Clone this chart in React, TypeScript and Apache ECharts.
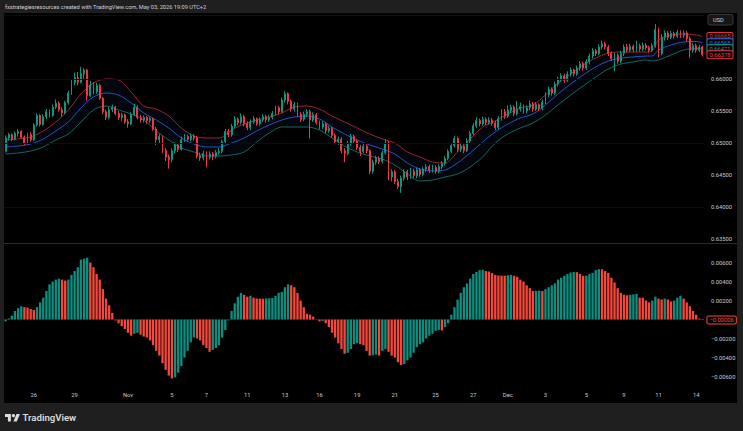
import React, { useEffect, useRef } from "react";
import * as echarts from "echarts";

// 4H candles, oldest first
const opens = [
  0.6487, 0.6508, 0.6513, 0.6506, 0.6515, 0.6518, 0.6509, 0.65, 0.6513, 0.6505,
  0.6528, 0.6543, 0.6529, 0.6541, 0.6549, 0.6543, 0.6556, 0.6562, 0.6552, 0.6547,
  0.6563, 0.6578, 0.6594, 0.6602, 0.6595, 0.6608, 0.6614, 0.6574, 0.6591, 0.658,
  0.659, 0.657, 0.6549, 0.654, 0.6552, 0.6556, 0.6546, 0.654, 0.6544, 0.6533,
  0.653, 0.6545, 0.6556, 0.654, 0.6536, 0.654, 0.6535, 0.6538, 0.6522, 0.6505,
  0.651, 0.6488, 0.6478, 0.6474, 0.6488, 0.6497, 0.649, 0.6505, 0.651, 0.6506,
  0.6511, 0.6508, 0.648, 0.6477, 0.6484, 0.6478, 0.6483, 0.6479, 0.6485, 0.6487,
  0.6502, 0.6518, 0.6513, 0.6526, 0.6537, 0.6532, 0.6541, 0.653, 0.6524, 0.6533,
  0.6538, 0.653, 0.6536, 0.6541, 0.6536, 0.654, 0.6546, 0.6555, 0.6549, 0.6567,
  0.6577, 0.6565, 0.6553, 0.656, 0.6545, 0.6537, 0.6545, 0.6549, 0.6536, 0.6544,
  0.6532, 0.6525, 0.653, 0.6519, 0.6523, 0.6512, 0.6502, 0.6506, 0.6488, 0.6484,
  0.6499, 0.651, 0.6503, 0.6493, 0.6487, 0.6495, 0.6488, 0.6456, 0.647, 0.6476,
  0.6471, 0.6485, 0.65, 0.6447, 0.6455, 0.644, 0.6432, 0.6445, 0.6455, 0.6447,
  0.6456, 0.6449, 0.6458, 0.6451, 0.6459, 0.6463, 0.6457, 0.6462, 0.6456, 0.6463,
  0.6468, 0.6476, 0.6487, 0.6496, 0.6507, 0.649, 0.6495, 0.6488, 0.6503, 0.6515,
  0.6527, 0.6535, 0.653, 0.6537, 0.6532, 0.6536, 0.6531, 0.6524, 0.6538, 0.6549,
  0.6542, 0.6551, 0.6556, 0.6546, 0.6553, 0.6557, 0.655, 0.6555, 0.6561, 0.6553,
  0.656, 0.6554, 0.6564, 0.6575, 0.6584, 0.6578, 0.6592, 0.66, 0.6605, 0.6598,
  0.6608, 0.6614, 0.6608, 0.6617, 0.6624, 0.6617, 0.6627, 0.6636, 0.6644, 0.664,
  0.665, 0.6655, 0.665, 0.664, 0.6632, 0.6637, 0.6628, 0.664, 0.665, 0.6645,
  0.6651, 0.6646, 0.6652, 0.6647, 0.6653, 0.6649, 0.6645, 0.6652, 0.6677, 0.664,
  0.6665, 0.6672, 0.6665, 0.6671, 0.6667, 0.6673, 0.6668, 0.6672, 0.6663, 0.6645,
  0.6652, 0.6645, 0.665,
];

const highs = [
  0.6512, 0.6516, 0.6515, 0.6518, 0.6522, 0.652, 0.6512, 0.6516, 0.6517, 0.6531,
  0.6546, 0.6545, 0.6545, 0.6553, 0.6552, 0.656, 0.6568, 0.6565, 0.6556, 0.6566,
  0.6582, 0.66, 0.661, 0.6611, 0.6619, 0.6617, 0.6616, 0.6597, 0.6595, 0.6594,
  0.6592, 0.6572, 0.6552, 0.6556, 0.656, 0.6558, 0.655, 0.6547, 0.6546, 0.6537,
  0.6548, 0.6561, 0.6559, 0.6544, 0.6543, 0.6542, 0.6541, 0.654, 0.6525, 0.6514,
  0.6512, 0.6492, 0.6482, 0.6492, 0.6501, 0.65, 0.651, 0.6514, 0.6513, 0.6515,
  0.6514, 0.6511, 0.6485, 0.6488, 0.6487, 0.6487, 0.6486, 0.6489, 0.6492, 0.6505,
  0.6522, 0.6522, 0.653, 0.6542, 0.654, 0.6546, 0.6544, 0.6534, 0.6537, 0.6542,
  0.654, 0.654, 0.6545, 0.6544, 0.6544, 0.655, 0.6558, 0.6558, 0.6571, 0.6581,
  0.6579, 0.6568, 0.6564, 0.6563, 0.6548, 0.6549, 0.6553, 0.6552, 0.6548, 0.6547,
  0.6535, 0.6534, 0.6532, 0.6527, 0.6525, 0.6515, 0.651, 0.6509, 0.6492, 0.6503,
  0.6514, 0.6513, 0.6506, 0.6497, 0.65, 0.6498, 0.649, 0.6474, 0.648, 0.6479,
  0.6488, 0.6506, 0.6503, 0.6459, 0.6458, 0.6444, 0.6449, 0.6459, 0.6458, 0.6461,
  0.646, 0.6462, 0.6461, 0.6463, 0.6467, 0.6466, 0.6466, 0.6465, 0.6467, 0.6472,
  0.648, 0.649, 0.65, 0.6511, 0.651, 0.6499, 0.6498, 0.6507, 0.6519, 0.6531,
  0.654, 0.6538, 0.6541, 0.654, 0.654, 0.6539, 0.6535, 0.6542, 0.6553, 0.6553,
  0.6559, 0.656, 0.6559, 0.6566, 0.6563, 0.656, 0.6559, 0.6566, 0.6564, 0.6564,
  0.6562, 0.6568, 0.6579, 0.6588, 0.6587, 0.6596, 0.6604, 0.6609, 0.6608, 0.6612,
  0.6618, 0.6616, 0.6621, 0.6628, 0.6627, 0.6631, 0.664, 0.6648, 0.6647, 0.6654,
  0.666, 0.6658, 0.6653, 0.6643, 0.6641, 0.664, 0.6644, 0.6654, 0.6655, 0.6655,
  0.6654, 0.666, 0.6655, 0.6657, 0.6656, 0.6652, 0.6656, 0.6686, 0.668, 0.667,
  0.6676, 0.6675, 0.6675, 0.6674, 0.6677, 0.6676, 0.6676, 0.6675, 0.6666, 0.6656,
  0.6655, 0.6653, 0.6652,
];

const lows = [
  0.6485, 0.6504, 0.6503, 0.6504, 0.651, 0.6507, 0.6497, 0.6498, 0.6502, 0.6503,
  0.6526, 0.6526, 0.6527, 0.6537, 0.654, 0.6541, 0.6553, 0.6549, 0.6541, 0.6545,
  0.656, 0.6575, 0.659, 0.659, 0.6593, 0.66, 0.6566, 0.6572, 0.6576, 0.6577,
  0.6567, 0.6545, 0.6536, 0.6537, 0.6548, 0.6543, 0.6536, 0.6534, 0.653, 0.6524,
  0.6528, 0.6542, 0.6537, 0.6532, 0.6532, 0.653, 0.6531, 0.6519, 0.6497, 0.65,
  0.6484, 0.6472, 0.646, 0.647, 0.6484, 0.6486, 0.6488, 0.6502, 0.6502, 0.6503,
  0.6504, 0.6476, 0.6472, 0.6473, 0.6462, 0.6474, 0.6473, 0.6476, 0.6482, 0.6484,
  0.65, 0.6509, 0.651, 0.6523, 0.6528, 0.6529, 0.6526, 0.652, 0.652, 0.653,
  0.6527, 0.6527, 0.6533, 0.6532, 0.6533, 0.6537, 0.6543, 0.6545, 0.6547, 0.6563,
  0.656, 0.6549, 0.6549, 0.6541, 0.6533, 0.6534, 0.6541, 0.6507, 0.6533, 0.6529,
  0.6521, 0.6522, 0.6515, 0.6516, 0.6508, 0.6498, 0.6497, 0.6484, 0.647, 0.6481,
  0.6496, 0.6499, 0.6489, 0.648, 0.6484, 0.6484, 0.6452, 0.6452, 0.6466, 0.6467,
  0.6468, 0.6482, 0.6442, 0.644, 0.6436, 0.6428, 0.6422, 0.6441, 0.6442, 0.6444,
  0.6445, 0.6445, 0.6447, 0.6448, 0.6455, 0.6453, 0.6454, 0.6452, 0.6453, 0.6459,
  0.6465, 0.6473, 0.6484, 0.6493, 0.6486, 0.6486, 0.6484, 0.6486, 0.65, 0.6512,
  0.6523, 0.6526, 0.6527, 0.6528, 0.6529, 0.6527, 0.652, 0.6521, 0.6535, 0.6538,
  0.6539, 0.6547, 0.6542, 0.6543, 0.6549, 0.6546, 0.6546, 0.6551, 0.6549, 0.655,
  0.655, 0.6551, 0.6561, 0.6571, 0.6574, 0.6575, 0.6588, 0.6596, 0.6594, 0.6595,
  0.6604, 0.6604, 0.6605, 0.6613, 0.6613, 0.6614, 0.6623, 0.6632, 0.6636, 0.6637,
  0.6646, 0.6646, 0.6636, 0.6628, 0.6612, 0.6624, 0.6625, 0.6636, 0.6641, 0.6642,
  0.6642, 0.6643, 0.6643, 0.6644, 0.6645, 0.6641, 0.6642, 0.6649, 0.6634, 0.6637,
  0.666, 0.6661, 0.6662, 0.6663, 0.6664, 0.6664, 0.6664, 0.6659, 0.6633, 0.6641,
  0.6641, 0.6642, 0.6635,
];

const closes = [
  0.6508, 0.6513, 0.6506, 0.6515, 0.6518, 0.6509, 0.65, 0.6513, 0.6505, 0.6528,
  0.6543, 0.6529, 0.6541, 0.6549, 0.6543, 0.6556, 0.6562, 0.6552, 0.6547, 0.6563,
  0.6578, 0.6594, 0.6602, 0.6595, 0.6608, 0.6614, 0.6574, 0.6591, 0.658, 0.659,
  0.657, 0.6549, 0.654, 0.6552, 0.6556, 0.6546, 0.654, 0.6544, 0.6533, 0.653,
  0.6545, 0.6556, 0.654, 0.6536, 0.654, 0.6535, 0.6538, 0.6522, 0.6505, 0.651,
  0.6488, 0.6478, 0.6474, 0.6488, 0.6497, 0.649, 0.6505, 0.651, 0.6506, 0.6511,
  0.6508, 0.648, 0.6477, 0.6484, 0.6478, 0.6483, 0.6479, 0.6485, 0.6487, 0.6502,
  0.6518, 0.6513, 0.6526, 0.6537, 0.6532, 0.6541, 0.653, 0.6524, 0.6533, 0.6538,
  0.653, 0.6536, 0.6541, 0.6536, 0.654, 0.6546, 0.6555, 0.6549, 0.6567, 0.6577,
  0.6565, 0.6553, 0.656, 0.6545, 0.6537, 0.6545, 0.6549, 0.6536, 0.6544, 0.6532,
  0.6525, 0.653, 0.6519, 0.6523, 0.6512, 0.6502, 0.6506, 0.6488, 0.6484, 0.6499,
  0.651, 0.6503, 0.6493, 0.6487, 0.6495, 0.6488, 0.6456, 0.647, 0.6476, 0.6471,
  0.6485, 0.65, 0.6447, 0.6455, 0.644, 0.6432, 0.6445, 0.6455, 0.6447, 0.6456,
  0.6449, 0.6458, 0.6451, 0.6459, 0.6463, 0.6457, 0.6462, 0.6456, 0.6463, 0.6468,
  0.6476, 0.6487, 0.6496, 0.6507, 0.649, 0.6495, 0.6488, 0.6503, 0.6515, 0.6527,
  0.6535, 0.653, 0.6537, 0.6532, 0.6536, 0.6531, 0.6524, 0.6538, 0.6549, 0.6542,
  0.6551, 0.6556, 0.6546, 0.6553, 0.6557, 0.655, 0.6555, 0.6561, 0.6553, 0.656,
  0.6554, 0.6564, 0.6575, 0.6584, 0.6578, 0.6592, 0.66, 0.6605, 0.6598, 0.6608,
  0.6614, 0.6608, 0.6617, 0.6624, 0.6617, 0.6627, 0.6636, 0.6644, 0.664, 0.665,
  0.6655, 0.665, 0.664, 0.6632, 0.6637, 0.6628, 0.664, 0.665, 0.6645, 0.6651,
  0.6646, 0.6652, 0.6647, 0.6653, 0.6649, 0.6645, 0.6652, 0.6677, 0.664, 0.6665,
  0.6672, 0.6665, 0.6671, 0.6667, 0.6673, 0.6668, 0.6672, 0.6663, 0.6645, 0.6652,
  0.6645, 0.665, 0.66378,
];

// Channel (upper / basis / lower), sampled at these bar indices
const bandIdx = [
  0, 4, 8, 12, 16, 20, 24, 28, 32, 36, 40, 44, 48, 52, 56, 60, 64, 68, 72, 76,
  80, 84, 88, 92, 96, 100, 104, 108, 112, 116, 120, 124, 128, 132, 136, 140,
  144, 148, 152, 156, 160, 164, 168, 172, 176, 180, 184, 188, 192, 196, 200,
  204, 206, 208, 212, 216, 220, 222,
];
const upperBand = [
  0.65047, 0.65063, 0.65094, 0.65188, 0.65328, 0.65516, 0.65766, 0.65938, 0.66, 0.65984,
  0.65797, 0.65578, 0.65531, 0.65422, 0.65234, 0.65109, 0.65078, 0.65078, 0.65203, 0.65297,
  0.65359, 0.65406, 0.65469, 0.65563, 0.65578, 0.65531, 0.65422, 0.65328, 0.65234, 0.65141,
  0.65063, 0.65, 0.64859, 0.64781, 0.64703, 0.64688, 0.64859, 0.65063, 0.6525, 0.65344,
  0.65453, 0.65547, 0.65594, 0.6575, 0.65938, 0.66078, 0.66219, 0.66328, 0.66406, 0.66422,
  0.66422, 0.66422, 0.66438, 0.66609, 0.66688, 0.66703, 0.66688, 0.66665,
];
const middleBand = [
  0.64938, 0.64953, 0.64984, 0.65063, 0.65188, 0.65328, 0.65547, 0.65719, 0.65781, 0.6575,
  0.65625, 0.65469, 0.65359, 0.65234, 0.65078, 0.64984, 0.64938, 0.64938, 0.65, 0.65078,
  0.65188, 0.65281, 0.65359, 0.65406, 0.65422, 0.65375, 0.6525, 0.65141, 0.65047, 0.64969,
  0.64906, 0.64828, 0.64688, 0.64594, 0.64563, 0.64578, 0.64688, 0.64844, 0.65016, 0.65172,
  0.65297, 0.65391, 0.65453, 0.65594, 0.65766, 0.65922, 0.66063, 0.66188, 0.66281, 0.66328,
  0.66344, 0.66359, 0.66359, 0.66453, 0.66531, 0.66578, 0.66586, 0.66568,
];
const lowerBand = [
  0.64828, 0.64844, 0.64875, 0.64938, 0.65047, 0.65141, 0.65328, 0.65516, 0.65578, 0.65516,
  0.65453, 0.65359, 0.65188, 0.65047, 0.64922, 0.64859, 0.64797, 0.64797, 0.64813, 0.64859,
  0.65016, 0.65156, 0.6525, 0.6525, 0.6525, 0.65203, 0.65078, 0.64953, 0.64859, 0.64797,
  0.6475, 0.64656, 0.64516, 0.64406, 0.64422, 0.64469, 0.64516, 0.64625, 0.64781, 0.65,
  0.65141, 0.65234, 0.65313, 0.65438, 0.65594, 0.6575, 0.65891, 0.66031, 0.66156, 0.66234,
  0.66266, 0.66297, 0.66281, 0.66297, 0.66375, 0.66453, 0.66477, 0.66471,
];

// Momentum histogram, one value per candle
const momentum = [
  -0.0002, 0.0001, 0.0004, 0.0009, 0.0012, 0.0014, 0.0013, 0.00125, 0.0011, 0.001,
  0.0013, 0.0018, 0.0023, 0.003, 0.0037, 0.004, 0.0042, 0.0043, 0.0042, 0.0041,
  0.0042, 0.0047, 0.0051, 0.0055, 0.0063, 0.0064, 0.0065, 0.006, 0.0055, 0.0048,
  0.0042, 0.0032, 0.0022, 0.0015, 0.0007, -0.0001, -0.0004, -0.0007, -0.001, -0.0014,
  -0.0017, -0.0015, -0.0014, -0.0016, -0.0018, -0.0019, -0.0022, -0.0027, -0.0033, -0.0038,
  -0.0046, -0.0053, -0.0059, -0.0062, -0.0061, -0.0056, -0.0049, -0.004, -0.0033, -0.0024,
  -0.0019, -0.002, -0.0022, -0.0027, -0.003, -0.0034, -0.0032, -0.003, -0.0027, -0.0019,
  -0.0011, -0.0001, 0.0009, 0.0017, 0.0024, 0.0028, 0.0026, 0.0024, 0.0025, 0.0023,
  0.0022, 0.00219, 0.00218, 0.00222, 0.00224, 0.00226, 0.0025, 0.0028, 0.0029, 0.0034,
  0.0037, 0.0036, 0.0034, 0.0028, 0.002, 0.0013, 0.0006, 0.0005, 0.0003, 0.00003,
  -0.0002, -0.00015, -0.0004, -0.0008, -0.0014, -0.0019, -0.0025, -0.0031, -0.0036, -0.0035,
  -0.0031, -0.0026, -0.0025, -0.0026, -0.0027, -0.0033, -0.0038, -0.00378, -0.0037, -0.0038,
  -0.0033, -0.0031, -0.0034, -0.0038, -0.004, -0.0045, -0.0048, -0.0047, -0.0043, -0.004,
  -0.0035, -0.0029, -0.0026, -0.0024, -0.002, -0.0017, -0.0015, -0.0012, -0.0011, -0.00115,
  -0.0008, -0.0004, 0.0005, 0.0013, 0.0021, 0.0028, 0.0034, 0.0038, 0.0043, 0.0048,
  0.005, 0.0052, 0.00523, 0.0051, 0.00505, 0.0049, 0.0047, 0.00463, 0.00462, 0.00461,
  0.00467, 0.0047, 0.0046, 0.0045, 0.0042, 0.004, 0.0036, 0.0033, 0.003, 0.00302,
  0.00304, 0.003, 0.0032, 0.0034, 0.0036, 0.0038, 0.0042, 0.0044, 0.0046, 0.0048,
  0.00495, 0.005, 0.00498, 0.0048, 0.0046, 0.00462, 0.0048, 0.0049, 0.0052, 0.0053,
  0.00529, 0.0051, 0.0049, 0.0044, 0.0039, 0.0033, 0.0028, 0.0026, 0.00255, 0.0026,
  0.00265, 0.0027, 0.0023, 0.00229, 0.002, 0.0018, 0.002, 0.0024, 0.0022, 0.0021,
  0.0022, 0.0021, 0.0019, 0.002, 0.0023, 0.0025, 0.0022, 0.0018, 0.0014, 0.0009,
  0.0005, 0.0001, -0.00006,
];

// Time axis labels: bar index and text
const timeLabelIdx = [9, 22, 39, 53, 64, 77, 89, 100, 112, 124, 137, 149, 160, 172, 185, 197, 208, 220];
const timeLabelText = ["26", "29", "Nov", "5", "7", "11", "13", "16", "19", "21", "25", "27", "Dec", "3", "5", "9", "11", "14"];

const priceTicks = [0.635, 0.64, 0.645, 0.65, 0.655, 0.66, 0.665, 0.67];
const priceLabelTicks = [0.635, 0.64, 0.645, 0.65, 0.655, 0.66];
const momentumTicks = [-0.006, -0.004, -0.002, 0.002, 0.004, 0.006];

const HEADER = "fxstrategiesresources created with TradingView.com, May 03, 2026 19:09 UTC+2";

const UP = "#089981";
const DOWN = "#f23645";
const HIST_UP = "#0b8f80";
const HIST_DOWN = "#f5473a";
const UPPER_C = "#9e2530";
const MID_C = "#2853c4";
const LOWER_C = "#126b5b";
const FRAME = "#1f1f1f";
const AXIS_TEXT = "#c9cbd1";
const GRID_C = "#0e0e0e";
const FONT = "Roboto, 'Noto Sans', sans-serif";

const TV_PATH = "M14 22H7V11H0V4h14v18zM28 22h-8l7.5-18h8L28 22z";
echarts.graphic.registerShape("tvMark", echarts.graphic.extendPath(TV_PATH, {}));

const fmtSigned = (v: number) => (v < 0 ? "\u2212" : "") + Math.abs(v).toFixed(5);

function boxLabel(color: string) {
  return {
    show: true,
    distance: 5,
    formatter: (p: any) => {
      const v = Array.isArray(p.value) ? p.value[1] : p.value;
      return fmtSigned(Number(v));
    },
    color,
    backgroundColor: "#050505",
    borderColor: color,
    borderWidth: 1,
    borderRadius: 1,
    padding: [1, 2, 0, 2],
    fontSize: 5.8,
    fontFamily: FONT,
    lineHeight: 6,
    valueAnimation: false,
  };
}

export default function App() {
  const ref = useRef<HTMLDivElement>(null);

  useEffect(() => {
    if (!ref.current) return;
    const chart = echarts.init(ref.current, undefined, { renderer: "svg" });

    const cats = closes.map((_, i) => String(i));
    const labelByIdx = new Map<number, string>();
    timeLabelIdx.forEach((k, j) => labelByIdx.set(k, timeLabelText[j]));

    const pairs = (vals: number[]) => bandIdx.map((k, j) => [k, vals[j]]);
    const widthPairs = bandIdx.map((k, j) => [k, upperBand[j] - lowerBand[j]]);

    const candles = opens.map((o, i) => [o, closes[i], lows[i], highs[i]]);
    const bars = momentum.map((v, i) => ({
      value: v,
      itemStyle: { color: i === 0 || v > momentum[i - 1] ? HIST_UP : HIST_DOWN },
    }));

    const lastUp = closes[closes.length - 1] >= opens[opens.length - 1];

    const option: any = {
      animation: false,
      backgroundColor: "#000000",
      grid: [
        { left: 4, right: 39, top: 13, height: 230 },
        { left: 4, right: 39, top: 244, height: 142 },
      ],
      xAxis: [
        { type: "category", gridIndex: 0, data: cats, boundaryGap: true, show: false },
        {
          type: "category",
          gridIndex: 1,
          data: cats,
          boundaryGap: true,
          axisLine: { show: false },
          axisTick: { show: false },
          splitLine: { show: false },
          axisLabel: {
            interval: (i: number) => labelByIdx.has(i),
            formatter: (_v: string, i: number) => labelByIdx.get(i) ?? "",
            color: AXIS_TEXT,
            fontSize: 5.8,
            fontFamily: FONT,
            margin: 6,
          },
        },
      ],
      yAxis: [
        {
          type: "value",
          gridIndex: 0,
          position: "right",
          min: 0.634375,
          max: 0.6703125,
          axisLine: { show: false },
          axisTick: { show: false },
          splitLine: { show: false },
          axisLabel: {
            customValues: priceLabelTicks,
            formatter: (v: number) => v.toFixed(5),
            color: AXIS_TEXT,
            fontSize: 5.8,
            fontFamily: FONT,
            margin: 7,
          },
        },
        {
          type: "value",
          gridIndex: 1,
          position: "right",
          min: -0.007,
          max: 0.0079474,
          axisLine: { show: false },
          axisTick: { show: false },
          splitLine: { show: false },
          axisLabel: {
            customValues: momentumTicks,
            formatter: (v: number) => fmtSigned(v),
            color: AXIS_TEXT,
            fontSize: 5.8,
            fontFamily: FONT,
            margin: 7,
          },
        },
      ],
      series: [
        {
          name: "bandBase",
          type: "line",
          xAxisIndex: 0,
          yAxisIndex: 0,
          data: pairs(lowerBand),
          stack: "channel",
          symbol: "none",
          silent: true,
          lineStyle: { opacity: 0 },
          z: 1,
          markLine: {
            silent: true,
            symbol: "none",
            label: { show: false },
            lineStyle: { color: GRID_C, width: 1, type: "solid" },
            data: priceTicks.map((v) => ({ yAxis: v })),
          },
        },
        {
          name: "bandFill",
          type: "line",
          xAxisIndex: 0,
          yAxisIndex: 0,
          data: widthPairs,
          stack: "channel",
          symbol: "none",
          silent: true,
          lineStyle: { opacity: 0 },
          areaStyle: { color: "rgba(40, 80, 170, 0.1)" },
          z: 1,
        },
        {
          name: "upper",
          type: "line",
          xAxisIndex: 0,
          yAxisIndex: 0,
          data: pairs(upperBand),
          symbol: "none",
          smooth: 0.3,
          silent: true,
          lineStyle: { color: UPPER_C, width: 1 },
          endLabel: boxLabel("#d8343f"),
          z: 2,
        },
        {
          name: "basis",
          type: "line",
          xAxisIndex: 0,
          yAxisIndex: 0,
          data: pairs(middleBand),
          symbol: "none",
          smooth: 0.3,
          silent: true,
          lineStyle: { color: MID_C, width: 1 },
          endLabel: boxLabel("#3d6bea"),
          z: 2,
        },
        {
          name: "lower",
          type: "line",
          xAxisIndex: 0,
          yAxisIndex: 0,
          data: pairs(lowerBand),
          symbol: "none",
          smooth: 0.3,
          silent: true,
          lineStyle: { color: LOWER_C, width: 1 },
          endLabel: boxLabel("#1d9a83"),
          z: 2,
        },
        {
          name: "price",
          type: "candlestick",
          xAxisIndex: 0,
          yAxisIndex: 0,
          data: candles,
          barWidth: "45%",
          silent: true,
          itemStyle: {
            color: UP,
            color0: DOWN,
            borderColor: UP,
            borderColor0: DOWN,
            borderWidth: 1,
          },
          z: 3,
        },
        {
          name: "lastClose",
          type: "line",
          xAxisIndex: 0,
          yAxisIndex: 0,
          data: closes,
          symbol: "none",
          silent: true,
          lineStyle: { opacity: 0 },
          endLabel: boxLabel(lastUp ? UP : DOWN),
          z: 4,
        },
        {
          name: "momentum",
          type: "bar",
          xAxisIndex: 1,
          yAxisIndex: 1,
          data: bars,
          barWidth: "74%",
          silent: true,
          z: 2,
          markLine: {
            silent: true,
            symbol: "none",
            label: { show: false },
            lineStyle: { color: GRID_C, width: 1, type: "solid" },
            data: momentumTicks.map((v) => ({ yAxis: v })),
            z: 1,
          },
        },
        {
          name: "momentumLast",
          type: "line",
          xAxisIndex: 1,
          yAxisIndex: 1,
          data: momentum,
          symbol: "none",
          silent: true,
          lineStyle: { opacity: 0 },
          endLabel: boxLabel(HIST_DOWN),
          z: 4,
        },
      ],
      graphic: [
        { type: "rect", silent: true, z: 100, shape: { x: 0, y: 0, width: 743, height: 13 }, style: { fill: FRAME } },
        { type: "rect", silent: true, z: 100, shape: { x: 0, y: 403, width: 743, height: 28 }, style: { fill: FRAME } },
        { type: "rect", silent: true, z: 100, shape: { x: 0, y: 0, width: 4, height: 431 }, style: { fill: FRAME } },
        { type: "rect", silent: true, z: 100, shape: { x: 737, y: 0, width: 6, height: 431 }, style: { fill: FRAME } },
        {
          type: "line",
          silent: true,
          z: 100,
          shape: { x1: 4, y1: 243.5, x2: 737, y2: 243.5 },
          style: { stroke: "#2b2b2b", lineWidth: 1 },
        },
        {
          type: "text",
          silent: true,
          z: 101,
          x: 5,
          y: 7,
          style: { text: HEADER, fill: "#cfd1d6", fontSize: 5.65, fontFamily: FONT, verticalAlign: "middle" },
        },
        {
          type: "rect",
          silent: true,
          z: 101,
          shape: { x: 708, y: 14.5, width: 25, height: 10.5, r: 2 },
          style: { fill: "#161616", stroke: "#3a3a3a", lineWidth: 1 },
        },
        {
          type: "text",
          silent: true,
          z: 102,
          x: 713,
          y: 20,
          style: { text: "USD", fill: "#d1d4dc", fontSize: 5.6, fontFamily: FONT, verticalAlign: "middle" },
        },
        {
          type: "tvMark",
          silent: true,
          z: 102,
          x: 5,
          y: 412.3,
          scaleX: 0.42,
          scaleY: 0.42,
          style: { fill: "#dcdcdc" },
        },
        {
          type: "circle",
          silent: true,
          z: 102,
          shape: { cx: 5 + 20 * 0.42, cy: 412.3 + 8 * 0.42, r: 4 * 0.42 },
          style: { fill: "#dcdcdc" },
        },
        {
          type: "text",
          silent: true,
          z: 102,
          x: 22.5,
          y: 417.5,
          style: {
            text: "TradingView",
            fill: "#dcdcdc",
            fontSize: 9.6,
            fontWeight: 600,
            fontFamily: FONT,
            verticalAlign: "middle",
          },
        },
      ],
    };

    chart.setOption(option);
    return () => chart.dispose();
  }, []);

  return (
    <div
      ref={ref}
      style={{ position: "fixed", left: 0, top: 0, width: 743, height: 431 }}
    />
  );
}
